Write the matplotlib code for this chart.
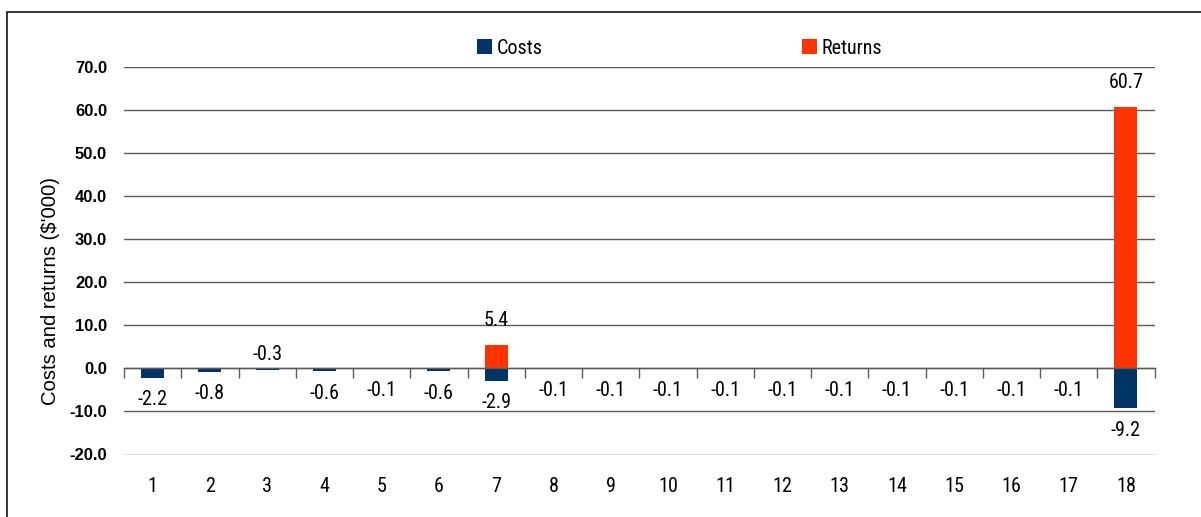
import matplotlib
matplotlib.use("Agg")
import matplotlib.pyplot as plt
from matplotlib.patches import Rectangle, Patch
import numpy as np

# Data
categories = [str(i) for i in range(1, 19)]
costs = [-2.2, -0.8, -0.3, -0.6, -0.1, -0.6, -2.9, -0.1, -0.1, -0.1,
         -0.1, -0.1, -0.1, -0.1, -0.1, -0.1, -0.1, -9.2]
returns = [0, 0, 0, 0, 0, 0, 5.4, 0, 0, 0, 0, 0, 0, 0, 0, 0, 0, 60.7]
cost_labels_above = ["3"]  # categories whose cost label sits above the axis
y_ticks = [-20, -10, 0, 10, 20, 30, 40, 50, 60, 70]
y_label = "Costs and returns ($'000)"
series_names = ["Costs", "Returns"]

COST_COLOR = "#003366"
RETURN_COLOR = "#FF3300"
GRID_COLOR = "#5a5a5a"

narrow_fam = ["Roboto Condensed", "Liberation Sans", "DejaVu Sans"]
regular_fam = ["Liberation Sans", "DejaVu Sans"]
LABEL_SIZE = 14.5

fig = plt.figure(figsize=(12.01, 5.17), dpi=100)
W, H = 1201, 517

# Frame around the chart
fig.patches.append(Rectangle((7 / W, -0.1), 1.2, 1.1 - 12 / H, transform=fig.transFigure,
                             fill=False, edgecolor="black", linewidth=1.1, clip_on=False))

ax = fig.add_axes([124 / W, 1 - 454.5 / H, (1154.5 - 124) / W, (454.5 - 67.3) / H])
x = np.arange(len(categories))

ax.bar(x, costs, width=0.4, color=COST_COLOR, zorder=3)
ax.bar(x, returns, width=0.4, color=RETURN_COLOR, zorder=3)

ax.set_xlim(-0.5, len(categories) - 0.5)
ax.set_ylim(y_ticks[0], y_ticks[-1])

# Horizontal gridlines
ax.set_yticks(y_ticks)
ax.set_yticklabels([f"{v:.1f}" for v in y_ticks], family=regular_fam,
                   fontweight="bold", fontsize=12)
ax.tick_params(axis="y", length=0, pad=12.2)
ax.yaxis.grid(True, color=GRID_COLOR, linewidth=1.0, zorder=1)
ax.set_axisbelow(True)

for s in ["left", "right", "top"]:
    ax.spines[s].set_visible(False)
ax.spines["bottom"].set_position(("data", 0))
ax.spines["bottom"].set_color(GRID_COLOR)
ax.spines["bottom"].set_linewidth(1.0)
ax.spines["bottom"].set_zorder(4)

# Category boundary ticks on the zero line
ax.set_xticks(np.arange(len(categories) + 1) - 0.5)
ax.set_xticklabels([])
ax.tick_params(axis="x", direction="out", length=7, width=1.0, color=GRID_COLOR)

# Category labels along the bottom
sec = ax.secondary_xaxis("bottom")
sec.set_xticks(x)
sec.set_xticklabels(categories, family=narrow_fam, fontsize=LABEL_SIZE)
sec.tick_params(length=0, pad=16)
sec.spines["bottom"].set_visible(False)

# Value labels
for xi, cat, c in zip(x, categories, costs):
    if cat in cost_labels_above:
        ax.annotate(f"{c:.1f}", (xi, 0), xytext=(0, 14), textcoords="offset pixels",
                    ha="center", va="center", family=narrow_fam, fontsize=LABEL_SIZE, zorder=5)
    else:
        ax.annotate(f"{c:.1f}", (xi, c), xytext=(0, -22), textcoords="offset pixels",
                    ha="center", va="center", family=narrow_fam, fontsize=LABEL_SIZE, zorder=5)
for xi, r in zip(x, returns):
    if r != 0:
        ax.annotate(f"{r:.1f}", (xi, r), xytext=(0, 25), textcoords="offset pixels",
                    ha="center", va="center", family=narrow_fam, fontsize=LABEL_SIZE, zorder=5)

fig.text(51 / W, 1 - 291 / H, y_label, rotation=90, ha="center", va="center",
         family=regular_fam, fontsize=14.6)

# Legend entries placed individually
for name, color, xpos in zip(series_names, [COST_COLOR, RETURN_COLOR], [477, 802]):
    fig.legend(handles=[Patch(facecolor=color, edgecolor="none")], labels=[name],
               loc="center left", bbox_to_anchor=(xpos / W, 1 - 48 / H),
               bbox_transform=fig.transFigure, frameon=False, borderpad=0,
               borderaxespad=0, handlelength=0.74, handleheight=0.8,
               handletextpad=0.25, prop={"family": narrow_fam, "size": LABEL_SIZE})

fig.savefig("out.png", dpi=100)
